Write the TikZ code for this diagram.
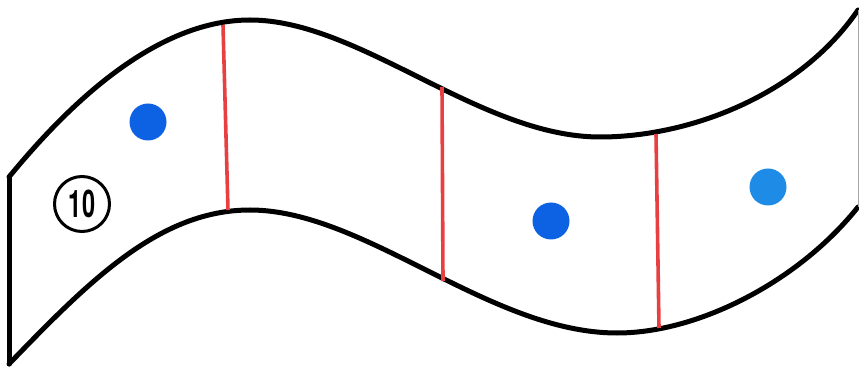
\documentclass[tikz,border=0pt]{standalone}
\usepackage{fontspec}
\setsansfont{TeX Gyre Heros}
\definecolor{stripred}{RGB}{232,64,66}
\definecolor{dotblue}{RGB}{12,98,226}
\definecolor{dotcyan}{RGB}{30,140,230}
\tikzset{
  edge/.style={line width=5pt, line join=round, line cap=round, black},
  divider/.style={line width=3.6pt, stripred},
  dot/.style={circle, fill=#1, inner sep=0pt, minimum size=37pt},
  badge/.style={circle, draw=black, line width=3pt, inner sep=0pt, minimum size=55pt,
    font=\sffamily\bfseries\fontsize{38}{38}\selectfont}
}
\begin{document}
\begin{tikzpicture}[x=1pt,y=-1pt]
\useasboundingbox (0,0) rectangle (859,371);
% corners
\coordinate (tl) at (9,177);
\coordinate (bl) at (9,364);
\coordinate (tp) at (250,20);
\coordinate (tv) at (600,137);
\coordinate (tr) at (858,10);
\coordinate (bp) at (250,210);
\coordinate (bv) at (617,333);
\coordinate (br) at (858,207);
% top edge
\draw[edge] (tl) .. controls (60,115) and (150,20) .. (tp)
  .. controls (360,20) and (480,137) .. (tv)
  .. controls (690,137) and (800,95) .. (tr);
% bottom edge
\draw[edge] (bl) .. controls (90,280) and (160,210) .. (bp)
  .. controls (365,210) and (490,333) .. (bv)
  .. controls (700,333) and (800,280) .. (br);
% left edge
\draw[edge] (tl) -- (bl);
% right edge (faint)
\draw[line width=1pt, black!35] (tr) -- (br);
% dividers
\coordinate (d1t) at (223,25); \coordinate (d1b) at (228,210);
\coordinate (d2t) at (442,87); \coordinate (d2b) at (443,281);
\coordinate (d3t) at (656,134); \coordinate (d3b) at (659,328);
\draw[divider] (d1t) -- (d1b);
\draw[divider] (d2t) -- (d2b);
\draw[divider] (d3t) -- (d3b);
% dots
\node[dot=dotblue] (p1) at (148,122) {};
\node[dot=dotblue] (p2) at (551,221) {};
\node[dot=dotcyan] (p3) at (768,187) {};
% badge
\node[badge] (num) at (82,204) {\scalebox{0.62}[1]{10}};
\end{tikzpicture}
\end{document}
